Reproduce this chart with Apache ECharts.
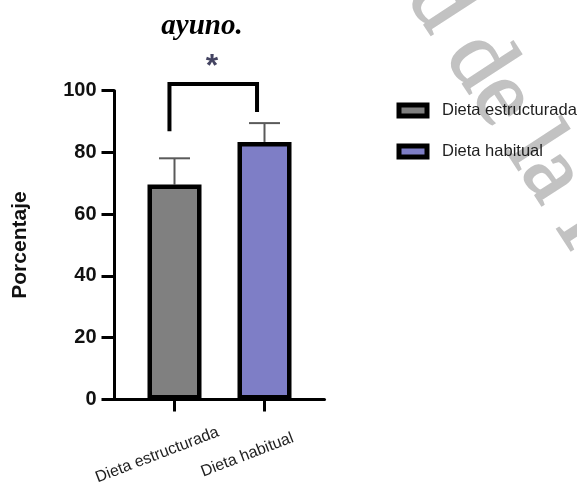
<!DOCTYPE html>
<html>
<head>
<meta charset="utf-8">
<script src="https://cdn.jsdelivr.net/npm/echarts@6/dist/echarts.min.js"></script>
<style>
  html, body { margin: 0; padding: 0; background: #fff; }
  #chart { width: 577px; height: 487px; }
</style>
</head>
<body>
<div id="chart"></div>
<script>
// Group names, shown on the x axis and in the legend
const categories = ['Dieta estructurada', 'Dieta habitual'];
// Mean percentage per group
const means = [69.6, 83.4];
// Upper end of each error bar (mean + SD)
const errorTops = [78.1, 89.5];
// Y axis tick range
const yTicks = { min: 0, max: 100, step: 20 };
// Significance bracket: left foot, top, right foot (percent)
const bracketLevels = [86.9, 102.2, 93.1];
const bracketX = [0.944, 1.917];
const sigLabel = '*';
const sigPos = [1.417, 107.6];

const fills = ['#808080', '#7e7ec6'];
const sansBold = { fontFamily: 'Liberation Sans', fontWeight: 'bold', color: '#111' };

const chart = echarts.init(document.getElementById('chart'), null, { renderer: 'canvas' });

const barSeries = categories.map((name, i) => ({
  name: name,
  type: 'bar',
  data: [[i + 1, means[i]]],
  barWidth: 54,
  barGap: '-100%',
  z: 3,
  itemStyle: { color: fills[i], borderColor: '#000', borderWidth: 4.5 }
}));

const errorData = means.map((m, i) => [i + 1, m, errorTops[i]]);

const option = {
  animation: false,
  backgroundColor: '#fff',
  title: {
    text: 'ayuno.',
    left: 202,
    textAlign: 'center',
    top: 12,
    padding: 0,
    textStyle: {
      fontFamily: 'Liberation Serif', fontStyle: 'italic', fontWeight: 'bold',
      fontSize: 29, color: '#000'
    }
  },
  legend: {
    orient: 'vertical',
    left: 396.5,
    top: 102,
    padding: 0,
    icon: 'rect',
    itemWidth: 28,
    itemHeight: 11,
    itemGap: 24,
    data: categories,
    itemStyle: { borderWidth: 5, borderColor: '#000' },
    textStyle: {
      fontFamily: 'Liberation Sans', fontSize: 16.5, color: '#1e1e1e',
      lineHeight: 17, padding: [0, 0, 0, 10]
    },
    z: 5
  },
  graphic: [{
    type: 'text',
    z: -1,
    silent: true,
    x: 404,
    y: -52,
    rotation: -57 * Math.PI / 180,
    style: {
      text: 'ad de la R',
      font: '94px "Liberation Serif"',
      fill: '#c2c2c2',
      stroke: '#c2c2c2',
      lineWidth: 2,
      textAlign: 'left',
      textVerticalAlign: 'middle'
    }
  }],
  grid: { left: 114.5, top: 90.7, width: 210, height: 312 },
  xAxis: {
    type: 'value',
    min: 1 / 3,
    max: 8 / 3,
    splitLine: { show: false },
    axisLine: { show: true, lineStyle: { color: '#000', width: 3 } },
    axisTick: { show: true, customValues: [1, 2], length: 12, lineStyle: { color: '#000', width: 3 } },
    axisLabel: {
      customValues: [1, 2],
      formatter: v => categories[Math.round(v) - 1] || '',
      rotate: 21,
      align: 'center',
      verticalAlign: 'middle',
      margin: 49,
      padding: [0, 37, 0, 0],
      fontFamily: 'Liberation Sans',
      fontSize: 16,
      color: '#1e1e1e'
    }
  },
  yAxis: {
    type: 'value',
    min: yTicks.min,
    max: yTicks.max,
    interval: yTicks.step,
    name: 'Porcentaje',
    nameLocation: 'middle',
    nameGap: 84,
    nameTextStyle: Object.assign({ fontSize: 21 }, sansBold),
    splitLine: { show: false },
    axisLine: { show: true, lineStyle: { color: '#000', width: 3 } },
    axisTick: { show: true, length: 13, lineStyle: { color: '#000', width: 3 } },
    axisLabel: Object.assign({ fontSize: 20, margin: 18 }, sansBold)
  },
  series: [
    {
      name: 'error',
      type: 'custom',
      z: 2,
      data: errorData,
      renderItem: function (params, api) {
        const x = api.value(0);
        const base = api.coord([x, api.value(1)]);
        const top = api.coord([x, api.value(2)]);
        const half = 15.5;
        const st = { stroke: '#5a5a5a', lineWidth: 2 };
        return {
          type: 'group',
          children: [
            { type: 'line', shape: { x1: base[0], y1: base[1], x2: top[0], y2: top[1] }, style: st },
            { type: 'line', shape: { x1: top[0] - half, y1: top[1], x2: top[0] + half, y2: top[1] }, style: st }
          ]
        };
      }
    },
    barSeries[0],
    barSeries[1],
    {
      name: 'bracket',
      type: 'line',
      clip: false,
      z: 4,
      showSymbol: false,
      symbol: 'none',
      data: [
        [bracketX[0], bracketLevels[0]],
        [bracketX[0], bracketLevels[1]],
        [bracketX[1], bracketLevels[1]],
        [bracketX[1], bracketLevels[2]]
      ],
      lineStyle: { color: '#000', width: 4, cap: 'butt', join: 'miter' }
    },
    {
      name: 'sig',
      type: 'scatter',
      clip: false,
      z: 4,
      symbolSize: 1,
      itemStyle: { color: 'rgba(0,0,0,0)' },
      data: [sigPos],
      label: {
        show: true,
        position: 'inside',
        formatter: sigLabel,
        fontFamily: 'Liberation Sans',
        fontWeight: 'bold',
        fontSize: 32,
        color: '#14143a'
      }
    }
  ]
};

chart.setOption(option);
</script>
</body>
</html>
